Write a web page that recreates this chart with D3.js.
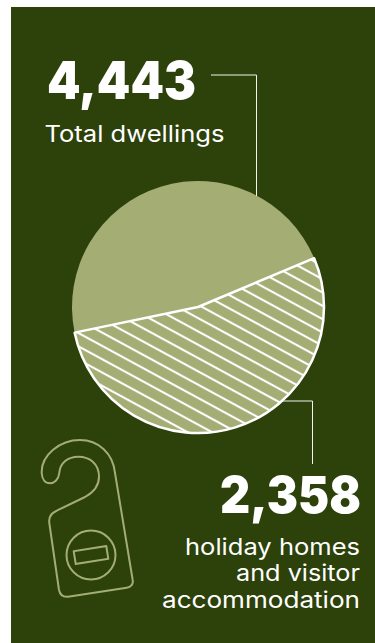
<!DOCTYPE html>
<html>
<head>
<meta charset="utf-8">
<script src="https://cdn.jsdelivr.net/npm/d3@7"></script>
<style>
  html, body { margin: 0; padding: 0; background: #fff; }
  svg { display: block; }
  text { font-family: Inter, "Open Sans", sans-serif; fill: #fff; }
</style>
</head>
<body>
<svg id="chart" width="375" height="643"></svg>
<script>
// Dwelling counts
const totalDwellings = 4443;
const holidayDwellings = 2358;
const sliceNames = ["holiday", "other"];
const sliceValues = [holidayDwellings, totalDwellings - holidayDwellings];
const holidayLabel = ["holiday homes", "and visitor", "accommodation"];
const holidayLabelWidths = [175, 124, 198];

const green = "#2d410b";
const sage = "#a3ad74";
const fmt = d3.format(",");

const svg = d3.select("#chart");
svg.append("rect").attr("x", 11).attr("y", 7).attr("width", 364).attr("height", 636).attr("fill", green);

// Diagonal hatching for the holiday slice
const hatchGap = 11.7;
const defs = svg.append("defs");
const hatch = defs.append("pattern").attr("id", "hatch")
  .attr("patternUnits", "userSpaceOnUse").attr("width", 40).attr("height", hatchGap)
  .attr("patternTransform", `translate(320.7,305) rotate(28.5) translate(0,${-hatchGap / 2})`);
hatch.append("rect").attr("width", 40).attr("height", hatchGap).attr("fill", sage);
hatch.append("rect").attr("y", hatchGap / 2 - 1.05).attr("width", 40).attr("height", 2.1).attr("fill", "#fff");

// Pie
const cx = 198, cy = 307, radius = 126;
const pie = d3.pie().sort(null).value(d => d)
  .startAngle(67.2 * Math.PI / 180)
  .endAngle((67.2 + 360) * Math.PI / 180);
const arc = d3.arc().innerRadius(0).outerRadius(radius);
const arcs = pie(sliceValues);
const pieG = svg.append("g").attr("transform", `translate(${cx},${cy})`);
pieG.selectAll("path").data([arcs[1], arcs[0]]).join("path")
  .attr("d", arc)
  .attr("fill", d => d.index === 0 ? "url(#hatch)" : sage)
  .attr("stroke", d => d.index === 0 ? "#fff" : "none")
  .attr("stroke-width", 2.5)
  .attr("stroke-linejoin", "round");

// Leader lines
const leader = [[211, 75], [256.5, 75], [256.5, 196]];
const leader2 = [[282, 401], [312.5, 401], [312.5, 464]];
const line = d3.line();
[leader, leader2].forEach(pts => {
  svg.append("path").attr("d", line(pts)).attr("fill", "none").attr("stroke", "#f2f3ec").attr("stroke-width", 1);
});

// Text
svg.append("text").attr("x", 47).attr("y", 98.5).attr("font-size", 52).attr("font-weight", 900)
  .attr("textLength", 149).attr("lengthAdjust", "spacingAndGlyphs")
  .text(fmt(totalDwellings));
svg.append("text").attr("x", 44.5).attr("y", 142).attr("font-size", 22.5).attr("font-weight", 400)
  .attr("textLength", 180).attr("lengthAdjust", "spacingAndGlyphs")
  .text("Total dwellings");
svg.append("text").attr("x", 361).attr("y", 513.3).attr("text-anchor", "end").attr("font-size", 51).attr("font-weight", 900)
  .attr("textLength", 141).attr("lengthAdjust", "spacingAndGlyphs")
  .text(fmt(holidayDwellings));
svg.selectAll("text.lbl").data(holidayLabel).join("text").attr("class", "lbl")
  .attr("x", 360).attr("y", (d, i) => 555 + i * 26.3).attr("text-anchor", "end")
  .attr("font-size", 22.5)
  .attr("textLength", (d, i) => holidayLabelWidths[i]).attr("lengthAdjust", "spacingAndGlyphs")
  .text(d => d);

// Door hanger icon
const icon = svg.append("g").attr("fill", "none").attr("stroke", sage).attr("stroke-width", 2).attr("stroke-linejoin", "round");
icon.append("path").attr("d",
  "M41.7,473 C41,455 60,440 80,440 C98,440 113,453 115,473 L132.7,580 C133.5,584 131,587 126.7,587.7 L68,596.7 C63,597.3 60,594.5 59,590 L49.3,523 C48.5,517 51,513 56.7,510.7 L85,497 C94,492 99,486 99,476.7 C99,464 90,456.7 78.3,456.7 C68,456.7 60,463 59.3,473 C58.5,480 54,483.3 50,483.3 C45,483.3 42,479 41.7,473 Z");
icon.append("circle").attr("cx", 91).attr("cy", 555).attr("r", 24.5);
icon.append("rect").attr("x", -16.5).attr("y", -6.5).attr("width", 33).attr("height", 13)
  .attr("transform", "translate(91,555) rotate(-9)");
</script>
</body>
</html>
